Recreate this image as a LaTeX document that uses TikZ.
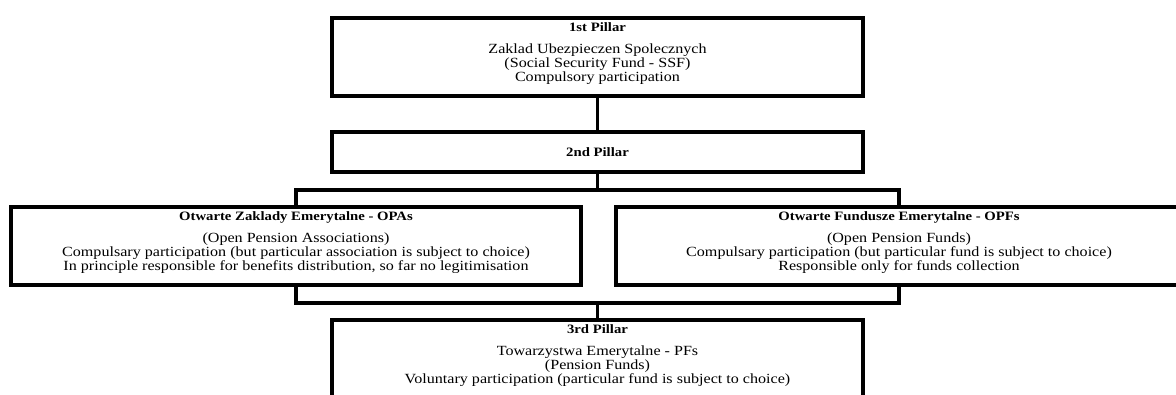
\documentclass[tikz,border=0pt]{standalone}
\usepackage{fontspec}
\setmainfont[FakeStretch=1.15]{Liberation Serif}
\usepackage{tikz}
\usetikzlibrary{positioning,calc}

\newcommand{\lift}{\rule[-7pt]{0pt}{0pt}}
\newcommand{\pillartitle}[1]{{\fontsize{9.6}{10}\selectfont\bfseries #1}}

\begin{document}
\begin{tikzpicture}[x=0.75pt,y=-0.75pt,
  pillar/.style={draw,line width=3pt,minimum height=58.5pt,align=center,inner sep=0pt,
    font=\fontsize{10.5}{10.6}\selectfont},
  link/.style={line width=2.3pt}]
 \useasboundingbox (0,0) rectangle (1176,394);
 \clip (0,0) rectangle (1176,394);
 % pillars
 \node[pillar,minimum width=398.25pt] (p1) at (597.5,57)
  {\pillartitle{1st Pillar}\\[5.5pt] Zaklad Ubezpieczen Spolecznych\\ (Social Security Fund - SSF)\\ Compulsory participation\lift};
 \node[pillar,minimum width=398.25pt,minimum height=30pt] (p2) at (597.5,152) {\pillartitle{2nd Pillar}};
 \node[pillar,minimum width=427.5pt] (opa) at (296,246)
  {\pillartitle{Otwarte Zaklady Emerytalne - OPAs}\\[5.5pt] (Open Pension Associations)\\
   Compulsary participation (but particular association is subject to choice)\\
   In principle responsible for benefits distribution, so far no legitimisation\lift};
 \node[pillar,minimum width=424.5pt] (opf) at (899,246)
  {\pillartitle{Otwarte Fundusze Emerytalne - OPFs}\\[5.5pt] (Open Pension Funds)\\
   Compulsary participation (but particular fund is subject to choice)\\
   Responsible only for funds collection\lift};
 \node[pillar,minimum width=398.25pt] (p3) at (597.5,359)
  {\pillartitle{3rd Pillar}\\[5.5pt] Towarzystwa Emerytalne - PFs\\ (Pension Funds)\\
   Voluntary participation (particular fund is subject to choice)\lift};
 % links
 \coordinate (split) at (597.5,190);
 \coordinate (merge) at (597.5,303);
 \draw[link] (p1) -- (p2);
 \draw[link] (p2) -- (split);
 \draw[link] (opa.north) |- (split) -| (opf.north);
 \draw[link] (opa.south) |- (merge) -| (opf.south);
 \draw[link] (merge) -- (p3);
\end{tikzpicture}
\end{document}
